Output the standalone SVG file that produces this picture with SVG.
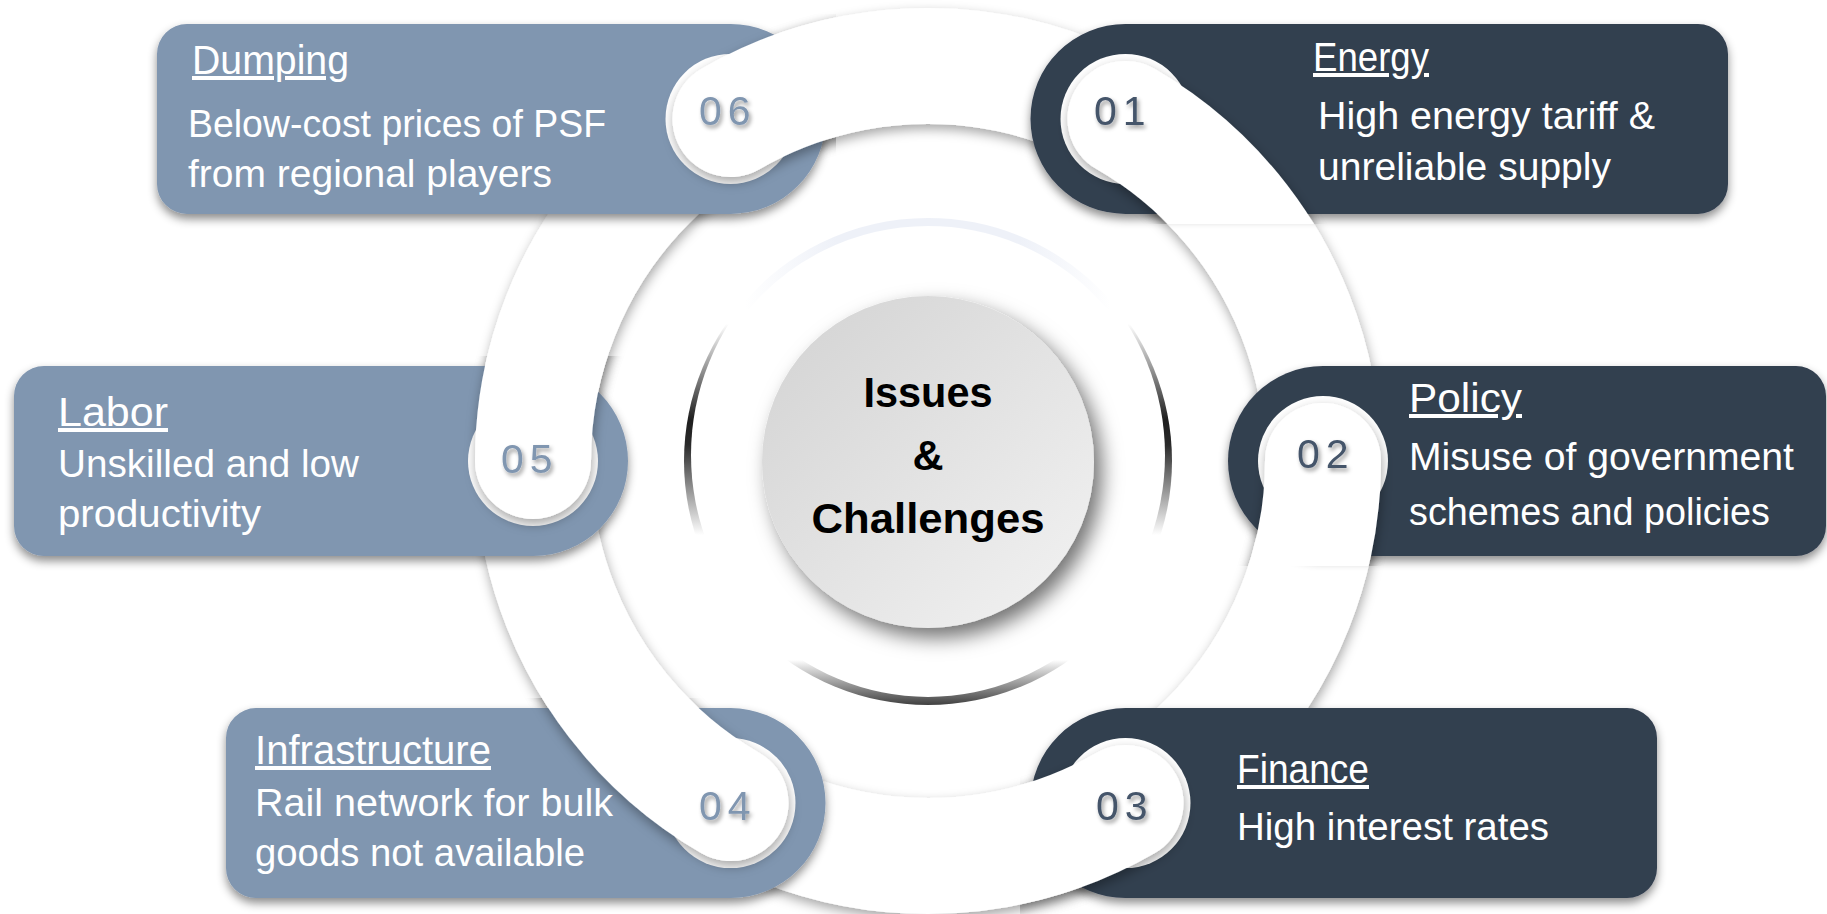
<svg xmlns="http://www.w3.org/2000/svg" width="1827" height="914" viewBox="0 0 1827 914">
  <style>
    .light { fill: #8096B0; }
    .dark { fill: #333F50; }
    .hole { fill: #ffffff; }
    .band { fill: none; stroke: #ffffff; stroke-width: 116; stroke-linecap: round; }
    .title { font-family: "Liberation Sans", Arial, sans-serif; font-size: 40px; fill: #ffffff; text-decoration: underline; }
    .body { font-family: "Liberation Sans", Arial, sans-serif; font-size: 38px; fill: #ffffff; }
    .num { font-family: "Liberation Sans", Arial, sans-serif; font-size: 41px; letter-spacing: 6px; }
    .num-light { fill: #8096B0; }
    .num-dark { fill: #44546A; }
    .core { font-family: "Liberation Sans", Arial, sans-serif; font-size: 43px; font-weight: bold; fill: #000000; text-anchor: middle; }
  </style>
  <defs>
    <filter id="shBand" filterUnits="userSpaceOnUse" x="-50" y="-50" width="1927" height="1014">
      <feDropShadow dx="1" dy="5" stdDeviation="6" flood-color="#000" flood-opacity="0.35"/>
    </filter>
    <filter id="shBox" filterUnits="userSpaceOnUse" x="-50" y="-50" width="1927" height="1014">
      <feDropShadow dx="0" dy="5" stdDeviation="5" flood-color="#000" flood-opacity="0.45"/>
    </filter>
    <filter id="shNum" x="-30%" y="-40%" width="170%" height="190%">
      <feDropShadow dx="2" dy="3" stdDeviation="2" flood-color="#000" flood-opacity="0.4"/>
    </filter>
    <filter id="shCore" filterUnits="userSpaceOnUse" x="600" y="150" width="700" height="650">
      <feDropShadow dx="8" dy="10" stdDeviation="10" flood-color="#000" flood-opacity="0.55"/>
    </filter>
    <linearGradient id="coreFill" x1="0" y1="0" x2="1" y2="1">
      <stop offset="0" stop-color="#d2d2d2"/>
      <stop offset="1" stop-color="#f3f3f3"/>
    </linearGradient>
    <linearGradient id="bevel" gradientUnits="userSpaceOnUse" x1="0" y1="216" x2="0" y2="706">
      <stop offset="0" stop-color="#ffffff"/>
      <stop offset="0.22" stop-color="#ffffff"/>
      <stop offset="0.416" stop-color="#1e1e1e"/>
      <stop offset="0.467" stop-color="#2a2a2a"/>
      <stop offset="0.651" stop-color="#ffffff"/>
      <stop offset="0.906" stop-color="#ffffff"/>
      <stop offset="0.922" stop-color="#dcdcdc"/>
      <stop offset="1" stop-color="#3c3c3c"/>
    </linearGradient>
    <linearGradient id="topArc" gradientUnits="userSpaceOnUse" x1="745" y1="0" x2="1111" y2="0">
      <stop offset="0" stop-color="#eef1f8" stop-opacity="0"/>
      <stop offset="0.25" stop-color="#eef1f8" stop-opacity="1"/>
      <stop offset="0.75" stop-color="#eef1f8" stop-opacity="1"/>
      <stop offset="1" stop-color="#eef1f8" stop-opacity="0"/>
    </linearGradient>
    <clipPath id="clip06" clipPathUnits="userSpaceOnUse"><rect x="147" y="14" width="689" height="210"/></clipPath>
    <clipPath id="clip01" clipPathUnits="userSpaceOnUse"><rect x="1018" y="14" width="720" height="210"/></clipPath>
    <clipPath id="clip02" clipPathUnits="userSpaceOnUse"><rect x="1218" y="356" width="609" height="210"/></clipPath>
    <clipPath id="clip05" clipPathUnits="userSpaceOnUse"><rect x="4" y="356" width="634" height="210"/></clipPath>
    <clipPath id="clip03" clipPathUnits="userSpaceOnUse"><rect x="1020" y="698" width="647" height="216"/></clipPath>
    <clipPath id="clip04" clipPathUnits="userSpaceOnUse"><rect x="216" y="698" width="624" height="216"/></clipPath>
  </defs>

  <rect x="0" y="0" width="1827" height="914" fill="#ffffff"/>

  <g id="connectors">
    <circle cx="928" cy="461" r="395" fill="none" stroke="#ffffff" stroke-width="116" filter="url(#shBand)"/>
  </g>

  <g id="center">
    <circle cx="928" cy="461" r="244" fill="url(#bevel)"/>
    <ellipse cx="928" cy="455" rx="237" ry="242" fill="#ffffff"/>
    <path d="M 744.9 307.4 A 239 239 0 0 1 1111.1 307.4" fill="none" stroke="url(#topArc)" stroke-width="8"/>
    <circle cx="928" cy="462" r="166" fill="url(#coreFill)" filter="url(#shCore)"/>
    <text class="core" x="928" y="407" textLength="129" lengthAdjust="spacingAndGlyphs">Issues</text>
    <text class="core" x="928" y="470">&amp;</text>
    <text class="core" x="928" y="533" textLength="233" lengthAdjust="spacingAndGlyphs">Challenges</text>
  </g>

  <g id="node-01">
    <path class="dark" filter="url(#shBox)" d="M 1125.5 23.9 H 1698 A 30 30 0 0 1 1728 53.9 V 183.9 A 30 30 0 0 1 1698 213.9 H 1125.5 A 95 95 0 0 1 1125.5 23.9 Z"/>
    <circle class="hole" cx="1125.5" cy="118.9" r="65"/>
    <path class="band" clip-path="url(#clip01)" filter="url(#shBand)" d="M 1125.5 118.9 A 395 395 0 0 1 1309.5 358.8"/>
    <text class="title" x="1313" y="71" textLength="116" lengthAdjust="spacingAndGlyphs">Energy</text>
    <text class="body" x="1318" y="129" textLength="337" lengthAdjust="spacingAndGlyphs">High energy tariff &amp;</text>
    <text class="body" x="1318" y="180" textLength="293" lengthAdjust="spacingAndGlyphs">unreliable supply</text>
    <text class="num num-dark" x="1094" y="125" filter="url(#shNum)">01</text>
  </g>

  <g id="node-02">
    <path class="dark" filter="url(#shBox)" d="M 1323 366 H 1796 A 30 30 0 0 1 1826 396 V 526 A 30 30 0 0 1 1796 556 H 1323 A 95 95 0 0 1 1323 366 Z"/>
    <circle class="hole" cx="1323" cy="461" r="65"/>
    <path class="band" clip-path="url(#clip02)" filter="url(#shBand)" d="M 1323 461 A 395 395 0 0 1 1207.3 740.3"/>
    <text class="title" x="1409" y="412" textLength="113" lengthAdjust="spacingAndGlyphs">Policy</text>
    <text class="body" x="1409" y="470" textLength="385" lengthAdjust="spacingAndGlyphs">Misuse of government</text>
    <text class="body" x="1409" y="525" textLength="361" lengthAdjust="spacingAndGlyphs">schemes and policies</text>
    <text class="num num-dark" x="1297" y="468" filter="url(#shNum)">02</text>
  </g>

  <g id="node-03">
    <path class="dark" filter="url(#shBox)" d="M 1125.5 708.1 H 1627 A 30 30 0 0 1 1657 738.1 V 868.1 A 30 30 0 0 1 1627 898.1 H 1125.5 A 95 95 0 0 1 1125.5 708.1 Z"/>
    <circle class="hole" cx="1125.5" cy="803.1" r="65"/>
    <path class="band" clip-path="url(#clip03)" filter="url(#shBand)" d="M 1125.5 803.1 A 395 395 0 0 1 825.8 842.5"/>
    <text class="title" x="1237" y="783" textLength="132" lengthAdjust="spacingAndGlyphs">Finance</text>
    <text class="body" x="1237" y="840" textLength="312" lengthAdjust="spacingAndGlyphs">High interest rates</text>
    <text class="num num-dark" x="1096" y="820" filter="url(#shNum)">03</text>
  </g>

  <g id="node-04">
    <path class="light" filter="url(#shBox)" d="M 256 708.1 H 730.5 A 95 95 0 0 1 730.5 898.1 H 256 A 30 30 0 0 1 226 868.1 V 738.1 A 30 30 0 0 1 256 708.1 Z"/>
    <circle class="hole" cx="730.5" cy="803.1" r="65"/>
    <path class="band" clip-path="url(#clip04)" filter="url(#shBand)" d="M 730.5 803.1 A 395 395 0 0 1 546.5 563.2"/>
    <text class="title" x="255" y="764" textLength="236" lengthAdjust="spacingAndGlyphs">Infrastructure</text>
    <text class="body" x="255" y="816" textLength="358" lengthAdjust="spacingAndGlyphs">Rail network for bulk</text>
    <text class="body" x="255" y="866" textLength="330" lengthAdjust="spacingAndGlyphs">goods not available</text>
    <text class="num num-light" x="699" y="820" filter="url(#shNum)">04</text>
  </g>

  <g id="node-05">
    <path class="light" filter="url(#shBox)" d="M 44 366 H 533 A 95 95 0 0 1 533 556 H 44 A 30 30 0 0 1 14 526 V 396 A 30 30 0 0 1 44 366 Z"/>
    <circle class="hole" cx="533" cy="461" r="65"/>
    <path class="band" clip-path="url(#clip05)" filter="url(#shBand)" d="M 533 461 A 395 395 0 0 1 648.7 181.7"/>
    <text class="title" x="58" y="426" textLength="110" lengthAdjust="spacingAndGlyphs">Labor</text>
    <text class="body" x="58" y="477" textLength="301" lengthAdjust="spacingAndGlyphs">Unskilled and low</text>
    <text class="body" x="58" y="527" textLength="203" lengthAdjust="spacingAndGlyphs">productivity</text>
    <text class="num num-light" x="501" y="473" filter="url(#shNum)">05</text>
  </g>

  <g id="node-06">
    <path class="light" filter="url(#shBox)" d="M 187 23.9 H 730.5 A 95 95 0 0 1 730.5 213.9 H 187 A 30 30 0 0 1 157 183.9 V 53.9 A 30 30 0 0 1 187 23.9 Z"/>
    <circle class="hole" cx="730.5" cy="118.9" r="65"/>
    <path class="band" clip-path="url(#clip06)" filter="url(#shBand)" d="M 730.5 118.9 A 395 395 0 0 1 1030.2 79.5"/>
    <text class="title" x="192" y="74" textLength="157" lengthAdjust="spacingAndGlyphs">Dumping</text>
    <text class="body" x="188" y="137" textLength="418" lengthAdjust="spacingAndGlyphs">Below-cost prices of PSF</text>
    <text class="body" x="188" y="187" textLength="364" lengthAdjust="spacingAndGlyphs">from regional players</text>
    <text class="num num-light" x="699" y="125" filter="url(#shNum)">06</text>
  </g>
</svg>
